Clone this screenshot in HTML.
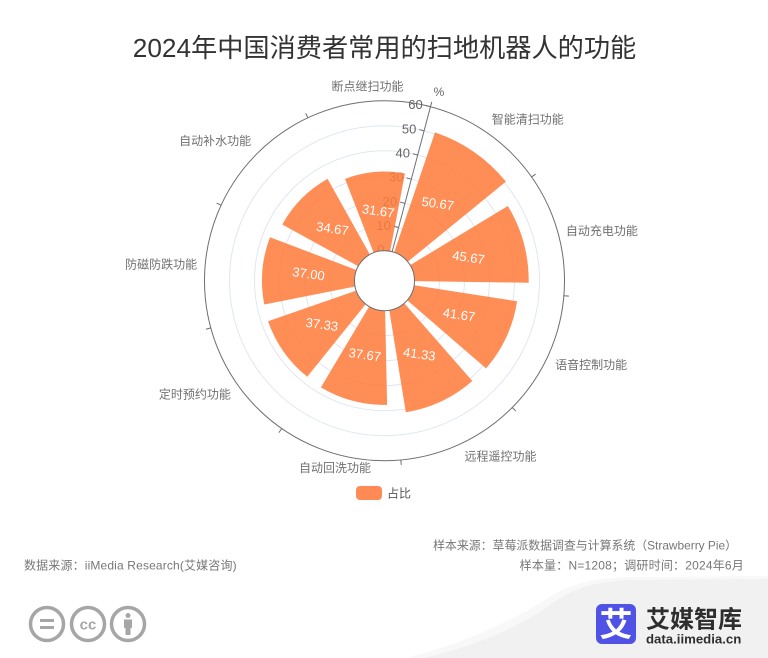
<!DOCTYPE html>
<html lang="zh">
<head>
<meta charset="utf-8">
<title>2024年中国消费者常用的扫地机器人的功能</title>
<style>
html,body{margin:0;padding:0;background:#fff;}
body{width:768px;height:658px;overflow:hidden;position:relative;}
svg{display:block;font-family:"Liberation Sans","Noto Sans CJK SC",sans-serif;}
</style>
</head>
<body>
<svg id="chart" width="768" height="658" viewBox="0 0 768 658" xmlns="http://www.w3.org/2000/svg">
  <path d="M405 658 C460 645 510 622 545 600 C570 584 590 578 630 577 L768 576 L768 658 Z" fill="#f8f8f8"/>
  <path d="M423 658 C470 648 520 627 550 605 C570 590 590 582 630 580 L768 579 L768 658 Z" fill="#f1f1f1"/>
  <text x="384.5" y="57" font-size="26.200" fill="#333" text-anchor="middle">2024年中国消费者常用的扫地机器人的功能</text>
  <g id="plot"></g>
  <rect x="356" y="486" width="26" height="14" rx="4" fill="#FF8A56"/>
  <text x="387" y="497.500" font-size="12" fill="#555">占比</text>
  <text x="737" y="549.500" font-size="11.900" fill="#777" text-anchor="end">样本来源：草莓派数据调查与计算系统（Strawberry Pie）</text>
  <text x="24" y="569.500" font-size="12" fill="#777" letter-spacing="0.15">数据来源：iiMedia Research(艾媒咨询)</text>
  <text x="744" y="569.500" font-size="12" fill="#777" text-anchor="end" letter-spacing="0.2">样本量：N=1208；调研时间：2024年6月</text>
  <g fill="none" stroke="#a6a6a6" stroke-width="3.500">
    <circle cx="47" cy="624" r="16.500"/>
    <path d="M40 620.500H54M40 627.500H54" stroke-width="3"/>
    <circle cx="88" cy="624" r="16.500"/>
    <text x="88" y="629.500" font-size="15" font-weight="bold" fill="#a6a6a6" stroke="none" text-anchor="middle">cc</text>
    <circle cx="128" cy="624" r="16.500"/>
    <circle cx="128" cy="615.500" r="2.500" fill="#a6a6a6" stroke="none"/>
    <path d="M124 619.500H132V628H130.500V635H125.500V628H124Z" fill="#a6a6a6" stroke="none"/>
  </g>
  <g>
    <rect x="596" y="604" width="40" height="40" rx="6" fill="#4F52E4"/>
    <text x="616" y="636" font-size="33" font-weight="bold" fill="#fff" text-anchor="middle">艾</text>
    <text x="646" y="627.500" font-size="24" font-weight="bold" fill="#2e2e2e">艾媒智库</text>
    <text x="646" y="643.500" font-size="13.200" font-weight="bold" fill="#2e2e2e">data.iimedia.cn</text>
  </g>
</svg>
<script>
const categories = ['智能清扫功能','自动充电功能','语音控制功能','远程遥控功能','自动回洗功能','定时预约功能','防磁防跌功能','自动补水功能','断点继扫功能'];
const shareValues = [50.67,45.67,41.67,41.33,37.67,37.33,37.00,34.67,31.67];
const radialTicks = [0,10,20,30,40,50,60];

const cx = 384.5, cy = 280.7, innerR = 30, outerR = 180, startDeg = 14.8;
const axisMax = radialTicks[radialTicks.length - 1];
const bandDeg = 360 / categories.length;
const NS = 'http://www.w3.org/2000/svg';
const plot = document.getElementById('plot');

function rScale(v) { return innerR + (v / axisMax) * (outerR - innerR); }
function aScale(i) { return startDeg + i * bandDeg; }
function pt(r, deg) {
  const a = deg * Math.PI / 180;
  return [cx + r * Math.sin(a), cy - r * Math.cos(a)];
}
function mk(tag, attrs, parent) {
  const el = document.createElementNS(NS, tag);
  for (const k in attrs) el.setAttribute(k, attrs[k]);
  (parent || plot).appendChild(el);
  return el;
}

/* split circles */
radialTicks.slice(1, -1).forEach(function (t) {
  const c = mk('circle', {cx: cx, cy: cy, r: rScale(t), fill: 'none', stroke: '#E0E6F1', 'stroke-width': 1});
  
  
});

/* outer circle */
const outer = mk('circle', {cx: cx, cy: cy, r: outerR, fill: 'none', stroke: '#6E6E6E', 'stroke-width': 1});



/* angle ticks and category labels */
categories.forEach(function (name, i) {
  const d = aScale(i);
  const p1 = pt(outerR, d), p2 = pt(outerR + 5, d);
  const tick = mk('line', {x1: p1[0], y1: p1[1], x2: p2[0], y2: p2[1], stroke: '#6E6E6E', 'stroke-width': 1});
  
  

  const mid = d + bandDeg / 2;
  const p = pt(outerR + 8, mid);
  const dx = (p[0] - cx) / (outerR + 8), dy = (p[1] - cy) / (outerR + 8);
  const anchor = Math.abs(dx) < 0.3 ? 'middle' : (dx > 0 ? 'start' : 'end');
  const yy = Math.abs(dy) < 0.3 ? p[1] + 3.5 : (dy < 0 ? p[1] - 3 : p[1] + 9.5);
  const label = mk('text', {x: p[0] - (anchor === 'middle' && dy > 0 ? 1.5 : 0), y: yy, 'font-size': 12, fill: '#707070', 'text-anchor': anchor});
  label.textContent = name;
  
  
});

/* radial axis */
const a0 = pt(rScale(0), startDeg), a1 = pt(rScale(axisMax), startDeg);
const rAxis = mk('line', {x1: a0[0], y1: a0[1], x2: a1[0], y2: a1[1], stroke: '#6E7079', 'stroke-width': 1});



radialTicks.forEach(function (t) {
  const p = pt(rScale(t), startDeg);
  const rad = startDeg * Math.PI / 180;
  const ux = -Math.cos(rad), uy = -Math.sin(rad);
  const tk = mk('line', {x1: p[0], y1: p[1], x2: p[0] + ux * 5, y2: p[1] + uy * 5, stroke: '#6E7079', 'stroke-width': 1});
  
  
  const lab = mk('text', {x: p[0] + ux * 8, y: p[1] + uy * 8 + 4.5, 'font-size': 13, fill: '#666', 'text-anchor': 'end'});
  lab.textContent = t;
  
  
});

const unit = mk('text', {x: 439, y: 96, 'font-size': 12, fill: '#666', 'text-anchor': 'middle'});
unit.textContent = '%';



/* bars */
const barPad = bandDeg * 0.1;
shareValues.forEach(function (v, i) {
  const s = aScale(i) + barPad, e = aScale(i + 1) - barPad, r = rScale(v);
  const A = pt(innerR, s), B = pt(r, s), C = pt(r, e), D = pt(innerR, e);
  const d = 'M' + A + 'L' + B + 'A' + r + ',' + r + ' 0 0 1 ' + C + 'L' + D + 'A' + innerR + ',' + innerR + ' 0 0 0 ' + A + 'Z';
  const bar = mk('path', {d: d, fill: '#FF7A3A', 'fill-opacity': 0.86});
  
  
});

/* inner circle */
const hub = mk('circle', {cx: cx, cy: cy, r: innerR, fill: '#fff', stroke: '#6E6E6E', 'stroke-width': 1});



/* value labels */
shareValues.forEach(function (v, i) {
  const mid = aScale(i) + bandDeg / 2;
  const p = pt((innerR + rScale(v)) / 2, mid);
  const t = mk('text', {x: p[0], y: p[1] + 4, 'font-size': 13, fill: '#fff', 'text-anchor': 'middle', transform: 'rotate(8 ' + p[0] + ' ' + p[1] + ')'});
  t.textContent = v.toFixed(2);
  
  
});
</script>
</body>
</html>
